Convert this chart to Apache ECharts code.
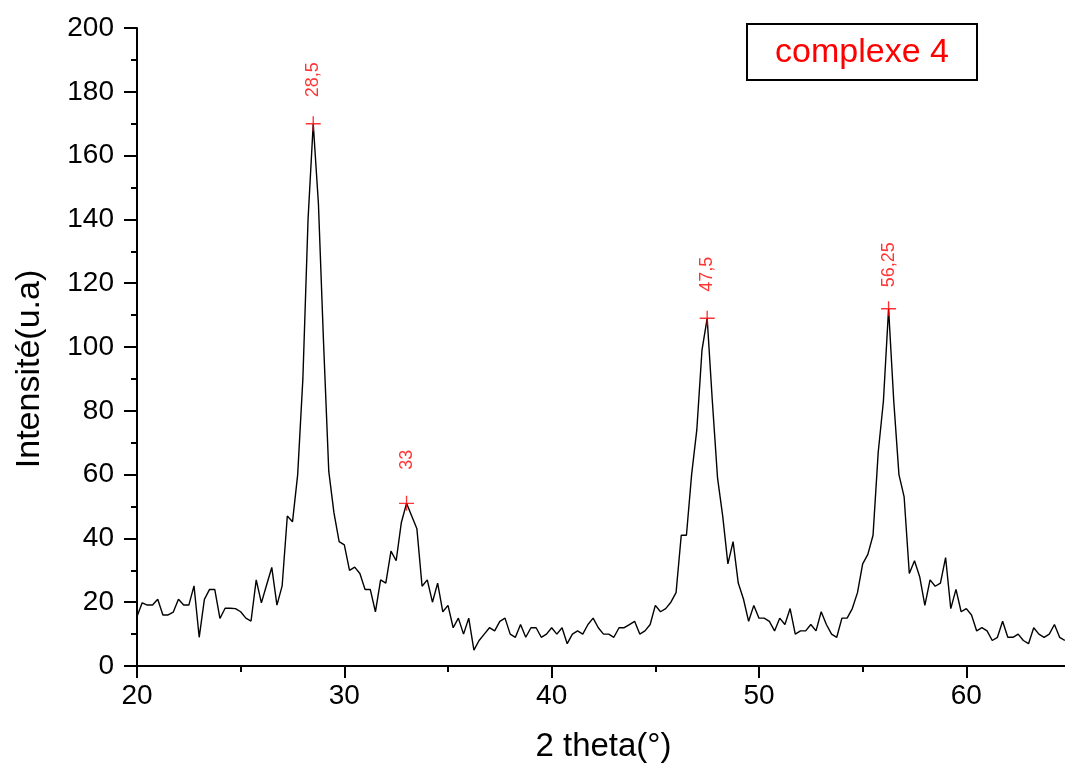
<!DOCTYPE html>
<html>
<head>
<meta charset="utf-8">
<script src="https://cdn.jsdelivr.net/npm/echarts@6/dist/echarts.min.js"></script>
<style>
  html, body { margin: 0; padding: 0; background: #fff; }
  #chart { width: 1065px; height: 773px; }
</style>
</head>
<body>
<div id="chart"></div>
<script>
// Diffractogram: 2θ scan positions (°)
const twoTheta = [
  20.00, 20.25, 20.50, 20.75, 21.00, 21.25, 21.50, 21.75, 22.00, 22.25, 22.50, 22.75,
  23.00, 23.25, 23.50, 23.75, 24.00, 24.25, 24.50, 24.75, 25.00, 25.25, 25.50, 25.75,
  26.00, 26.25, 26.50, 26.75, 27.00, 27.25, 27.50, 27.75, 28.00, 28.25, 28.50, 28.75,
  29.00, 29.25, 29.50, 29.75, 30.00, 30.25, 30.50, 30.75, 31.00, 31.25, 31.50, 31.75,
  32.00, 32.25, 32.50, 32.75, 33.00, 33.25, 33.50, 33.75, 34.00, 34.25, 34.50, 34.75,
  35.00, 35.25, 35.50, 35.75, 36.00, 36.25, 36.50, 36.75, 37.00, 37.25, 37.50, 37.75,
  38.00, 38.25, 38.50, 38.75, 39.00, 39.25, 39.50, 39.75, 40.00, 40.25, 40.50, 40.75,
  41.00, 41.25, 41.50, 41.75, 42.00, 42.25, 42.50, 42.75, 43.00, 43.25, 43.50, 43.75,
  44.00, 44.25, 44.50, 44.75, 45.00, 45.25, 45.50, 45.75, 46.00, 46.25, 46.50, 46.75,
  47.00, 47.25, 47.50, 47.75, 48.00, 48.25, 48.50, 48.75, 49.00, 49.25, 49.50, 49.75,
  50.00, 50.25, 50.50, 50.75, 51.00, 51.25, 51.50, 51.75, 52.00, 52.25, 52.50, 52.75,
  53.00, 53.25, 53.50, 53.75, 54.00, 54.25, 54.50, 54.75, 55.00, 55.25, 55.50, 55.75,
  56.00, 56.25, 56.50, 56.75, 57.00, 57.25, 57.50, 57.75, 58.00, 58.25, 58.50, 58.75,
  59.00, 59.25, 59.50, 59.75, 60.00, 60.25, 60.50, 60.75, 61.00, 61.25, 61.50, 61.75,
  62.00, 62.25, 62.50, 62.75, 63.00, 63.25, 63.50, 63.75, 64.00, 64.25, 64.50, 64.75
];

// Measured intensity (u.a) at each position
const intensity = [
  15.5, 19.8, 19.1, 19.1, 20.9, 16.0, 16.0, 16.9, 20.9, 19.1, 19.1, 25.1,
  9.0, 20.9, 24.0, 24.0, 14.9, 18.1, 18.1, 18.0, 17.0, 15.0, 14.1, 27.0,
  19.8, 25.4, 30.9, 19.1, 25.1, 47.0, 45.2, 60, 90, 140, 170, 145,
  101, 61, 48, 39, 38, 30, 31, 29, 24, 24, 17, 27,
  26, 36, 33, 45, 51, 47, 43, 25, 27, 20, 26, 17,
  19, 12, 15, 10, 15, 5, 8, 10, 12, 11, 14, 15,
  10, 9, 13, 9, 12, 12, 9, 10, 12, 10, 12, 7,
  10, 11, 10, 13, 15, 12, 10, 10, 9, 12, 12, 13,
  14, 10, 11, 13, 19, 17, 18, 20, 23, 41, 41, 60,
  74, 99, 109, 83, 59, 47, 32, 39, 26, 21, 14, 19,
  15, 15, 14, 11, 15, 13, 18, 10, 11, 11, 13, 11,
  17, 13, 10, 9, 15, 15, 18, 23, 32, 35, 41, 67,
  83, 112, 83, 60, 53, 29, 33, 28, 19, 27, 25, 26,
  34, 18, 24, 17, 18, 16, 11, 12, 11, 8, 9, 14,
  9, 9, 10, 8, 7, 12, 10, 9, 10, 13, 9, 8
];

// Indexed peaks
const peakTheta = [28.5, 33, 47.5, 56.25];
const peakIntensity = [170, 51, 109, 112];

// Axis ticks
const xTicks = [20, 30, 40, 50, 60];
const yTicks = [0, 20, 40, 60, 80, 100, 120, 140, 160, 180, 200];

const seriesName = 'complexe 4';

// gap between each peak marker and its rotated label (px)
const peakLabelGaps = [19, 26, 19, 14];

const FONT = '"Liberation Sans", Arial, sans-serif';
const RED = '#ff0000';
const PLUS = 'path://M-0.09,-1 L0.09,-1 L0.09,-0.09 L1,-0.09 L1,0.09 L0.09,0.09 L0.09,1 L-0.09,1 L-0.09,0.09 L-1,0.09 L-1,-0.09 L-0.09,-0.09 Z';

const chart = echarts.init(document.getElementById('chart'), null, { renderer: 'canvas' });

const linePoints = twoTheta.map((t, i) => [t, intensity[i]]);
const peakPoints = peakTheta.map((t, i) => ({
  value: [t, peakIntensity[i]],
  label: { distance: peakLabelGaps[i] }
}));

const axisCommon = {
  axisLine: { show: true, lineStyle: { color: '#000', width: 2 } },
  axisTick: { show: true, inside: false, lineStyle: { color: '#000', width: 2 } },
  minorTick: { show: true, splitNumber: 2, length: 6, lineStyle: { color: '#000', width: 2 } },
  splitLine: { show: false },
  axisLabel: { color: '#000', fontFamily: FONT }
};

chart.setOption({
  animation: false,
  backgroundColor: '#fff',
  // the 2θ axis runs to 65°, just past the right edge of the canvas
  grid: {
    left: 137, right: -5, top: 28, bottom: 107,
    containLabel: false,
    outerBoundsMode: 'none'
  },
  xAxis: Object.assign({}, axisCommon, {
    type: 'value',
    min: 20,
    max: 65,
    interval: 10,
    name: '2 theta(°)',
    nameLocation: 'middle',
    nameGap: 64,
    nameTextStyle: { color: '#000', fontFamily: FONT, fontSize: 33 },
    axisTick: Object.assign({}, axisCommon.axisTick, { length: 12 }),
    axisLabel: Object.assign({}, axisCommon.axisLabel, {
      fontSize: 28, margin: 16,
      formatter: v => (xTicks.indexOf(v) >= 0 ? String(v) : '')
    })
  }),
  yAxis: Object.assign({}, axisCommon, {
    type: 'value',
    min: 0,
    max: 200,
    interval: 20,
    name: 'Intensité(u.a)',
    nameLocation: 'middle',
    nameGap: 90,
    nameTextStyle: { color: '#000', fontFamily: FONT, fontSize: 34, padding: [0, 44, 0, 0] },
    axisTick: Object.assign({}, axisCommon.axisTick, { length: 13 }),
    axisLabel: Object.assign({}, axisCommon.axisLabel, {
      fontSize: 28, margin: 23,
      formatter: v => (yTicks.indexOf(v) >= 0 ? String(v) : '')
    })
  }),
  series: [
    {
      name: seriesName,
      type: 'line',
      data: linePoints,
      showSymbol: false,
      symbol: 'none',
      lineStyle: { color: '#000', width: 1.4 },
      clip: true,
      z: 2
    },
    {
      type: 'scatter',
      data: peakPoints,
      symbol: PLUS,
      symbolSize: 15,
      itemStyle: { color: RED },
      label: {
        show: true,
        position: 'top',
        rotate: 90,
        align: 'left',
        verticalAlign: 'middle',
        color: RED,
        fontFamily: FONT,
        fontSize: 18,
        formatter: p => String(p.value[0]).replace('.', ',')
      },
      z: 3
    }
  ],
  graphic: [
    {
      type: 'group',
      left: 746,
      top: 23,
      children: [
        {
          type: 'rect',
          shape: { x: 0, y: 0, width: 230, height: 56 },
          style: { fill: '#fff', stroke: '#000', lineWidth: 2 }
        },
        {
          type: 'text',
          x: 115,
          y: 29,
          style: {
            text: seriesName,
            fill: RED,
            font: '34px ' + FONT,
            align: 'center',
            verticalAlign: 'middle'
          }
        }
      ]
    }
  ]
});
</script>
</body>
</html>
